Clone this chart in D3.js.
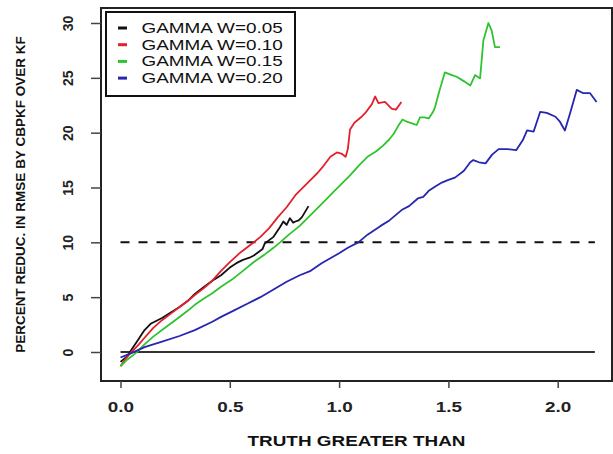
<!DOCTYPE html>
<html>
<head>
<meta charset="utf-8">
<script src="https://cdn.jsdelivr.net/npm/d3@7"></script>
<style>
  html, body { margin: 0; padding: 0; background: #fff; }
  svg { display: block; font-family: "Liberation Sans", Arial, sans-serif; }
</style>
</head>
<body>
<svg id="chart" width="613" height="454"></svg>
<script>
// Percent reduction in RMSE, one [truth threshold, percent] list per gamma weight
const seriesW005 = [
  [0.00, -0.9], [0.03, -0.4], [0.05, 0.2], [0.08, 1.1], [0.11, 2.0], [0.14, 2.6],
  [0.19, 3.1], [0.23, 3.6], [0.27, 4.1], [0.31, 4.7], [0.34, 5.3], [0.38, 5.9],
  [0.42, 6.5], [0.46, 7.0], [0.50, 7.7], [0.53, 8.1], [0.56, 8.4], [0.59, 8.6],
  [0.61, 8.8], [0.63, 9.1], [0.65, 9.4], [0.66, 9.9], [0.68, 10.2], [0.70, 10.5],
  [0.71, 10.8], [0.73, 11.4], [0.745, 11.9], [0.76, 11.6], [0.775, 12.2], [0.79, 11.8],
  [0.80, 11.9], [0.815, 12.0], [0.83, 12.3], [0.845, 12.8], [0.86, 13.3]
];
const seriesW010 = [
  [0.00, -1.3], [0.02, -0.7], [0.05, 0.0], [0.08, 0.6], [0.11, 1.3], [0.15, 2.2],
  [0.19, 2.9], [0.23, 3.5], [0.27, 4.1], [0.31, 4.7], [0.34, 5.2], [0.38, 5.8],
  [0.42, 6.5], [0.46, 7.4], [0.50, 8.2], [0.55, 9.1], [0.61, 10.0], [0.64, 10.5],
  [0.68, 11.3], [0.72, 12.3], [0.76, 13.2], [0.80, 14.3], [0.84, 15.1], [0.87, 15.7],
  [0.90, 16.3], [0.93, 17.0], [0.96, 17.8], [0.99, 18.2], [1.01, 18.1], [1.03, 17.8],
  [1.04, 18.5], [1.05, 20.3], [1.07, 20.9], [1.10, 21.4], [1.12, 21.8], [1.15, 22.6],
  [1.165, 23.3], [1.18, 22.7], [1.21, 22.8], [1.24, 22.2], [1.26, 22.1], [1.285, 22.8]
];
const seriesW015 = [
  [0.00, -1.3], [0.03, -0.7], [0.07, -0.1], [0.11, 0.7], [0.15, 1.4], [0.19, 2.0],
  [0.23, 2.6], [0.27, 3.2], [0.31, 3.8], [0.34, 4.3], [0.38, 4.85], [0.42, 5.35],
  [0.46, 5.95], [0.51, 6.6], [0.56, 7.4], [0.61, 8.2], [0.66, 8.9], [0.70, 9.5],
  [0.73, 10.0], [0.77, 10.7], [0.82, 11.5], [0.86, 12.3], [0.90, 13.1], [0.94, 13.9],
  [0.97, 14.5], [1.01, 15.3], [1.05, 16.1], [1.09, 17.0], [1.13, 17.8], [1.17, 18.3],
  [1.20, 18.8], [1.23, 19.4], [1.25, 19.9], [1.27, 20.6], [1.29, 21.2], [1.31, 21.0],
  [1.34, 20.8], [1.355, 20.7], [1.37, 21.4], [1.39, 21.4], [1.41, 21.3], [1.43, 21.9],
  [1.44, 22.4], [1.46, 23.9], [1.484, 25.5], [1.51, 25.3], [1.538, 25.1], [1.57, 24.7],
  [1.60, 24.3], [1.622, 25.25], [1.645, 24.95], [1.66, 28.4], [1.683, 30.0], [1.698, 29.3],
  [1.713, 27.8], [1.736, 27.8]
];
const seriesW020 = [
  [0.00, -0.5], [0.05, -0.1], [0.11, 0.45], [0.19, 0.94], [0.27, 1.46], [0.34, 2.0],
  [0.42, 2.76], [0.46, 3.2], [0.52, 3.8], [0.58, 4.4], [0.64, 5.0], [0.70, 5.7],
  [0.76, 6.4], [0.82, 7.0], [0.87, 7.4], [0.92, 8.1], [0.96, 8.55], [1.00, 9.0],
  [1.04, 9.5], [1.088, 10.0], [1.13, 10.7], [1.19, 11.5], [1.23, 12.0], [1.26, 12.5],
  [1.29, 13.0], [1.32, 13.3], [1.36, 14.0], [1.385, 14.15], [1.41, 14.7], [1.44, 15.1],
  [1.47, 15.45], [1.50, 15.7], [1.53, 15.9], [1.57, 16.5], [1.60, 17.3], [1.614, 17.5],
  [1.64, 17.3], [1.67, 17.2], [1.70, 18.0], [1.73, 18.5], [1.77, 18.5], [1.81, 18.4],
  [1.84, 19.3], [1.86, 20.2], [1.89, 20.1], [1.92, 21.9], [1.95, 21.8], [1.99, 21.45],
  [2.01, 21.0], [2.033, 20.2], [2.06, 22.0], [2.087, 23.9], [2.117, 23.6], [2.148, 23.6],
  [2.178, 22.8]
];

const legendLabels = ["GAMMA W=0.05", "GAMMA W=0.10", "GAMMA W=0.15", "GAMMA W=0.20"];
const seriesColors = ["#111111", "#e3202c", "#2ec42e", "#2626b0"];
const xTicks = [0.0, 0.5, 1.0, 1.5, 2.0];
const xTickLabels = ["0.0", "0.5", "1.0", "1.5", "2.0"];
const yTicks = [0, 5, 10, 15, 20, 25, 30];
const refLevels = { zero: 0, target: 10 };
const refSpan = [0.0, 2.17];

const xLabel = "TRUTH GREATER THAN";
const yLabel = "PERCENT REDUC. IN RMSE BY CBPKF OVER KF";

const allSeries = [seriesW005, seriesW010, seriesW015, seriesW020];

// Plot region
const box = { left: 101, top: 8, right: 612, bottom: 381 };
const x = d3.scaleLinear().domain([0, 2]).range([120.5, 557.7]);
const y = d3.scaleLinear().domain([0, 30]).range([352, 23]);
const hStretch = 1.35; // horizontal text is drawn wide

const svg = d3.select("#chart");

// Reference lines
svg.append("line")
  .attr("x1", x(refSpan[0])).attr("x2", x(refSpan[1]))
  .attr("y1", y(refLevels.zero)).attr("y2", y(refLevels.zero))
  .attr("stroke", "#333").attr("stroke-width", 2.2);
svg.append("line")
  .attr("x1", x(refSpan[0])).attr("x2", x(refSpan[1]))
  .attr("y1", y(refLevels.target)).attr("y2", y(refLevels.target))
  .attr("stroke", "#111").attr("stroke-width", 2)
  .attr("stroke-dasharray", "9,9");

// Series lines
const line = d3.line().x(d => x(d[0])).y(d => y(d[1]));
allSeries.forEach((s, i) => {
  svg.append("path")
    .datum(s)
    .attr("d", line)
    .attr("fill", "none")
    .attr("stroke", seriesColors[i])
    .attr("stroke-width", 1.8)
    .attr("stroke-linejoin", "round");
});

// Frame
svg.append("rect")
  .attr("x", box.left).attr("y", box.top)
  .attr("width", box.right - box.left).attr("height", box.bottom - box.top)
  .attr("fill", "none").attr("stroke", "#222").attr("stroke-width", 2);

// X axis
const xAxis = d3.axisBottom(x)
  .tickValues(xTicks)
  .tickFormat((d, i) => xTickLabels[i])
  .tickSize(7).tickPadding(0);
const gx = svg.append("g").attr("transform", `translate(0,${box.bottom})`).call(xAxis);
gx.select(".domain").remove();
gx.selectAll(".tick line").attr("stroke", "#444").attr("stroke-width", 1.5);
gx.selectAll(".tick text")
  .attr("y", 0).attr("dy", null)
  .attr("transform", `translate(0,31) scale(${hStretch},1)`)
  .attr("fill", "#222")
  .style("font-size", "14px").style("font-weight", "bold");

// Y axis
const yAxis = d3.axisLeft(y).tickValues(yTicks).tickSize(10).tickPadding(0);
const gy = svg.append("g").attr("transform", `translate(${box.left},0)`).call(yAxis);
gy.select(".domain").remove();
gy.selectAll(".tick line").attr("stroke", "#444").attr("stroke-width", 1.5);
gy.selectAll(".tick text")
  .attr("x", 0).attr("dy", null)
  .attr("text-anchor", "middle")
  .attr("transform", "translate(-28,0) rotate(-90)")
  .attr("fill", "#222")
  .style("font-size", "14px").style("font-weight", "bold");

// Axis titles
svg.append("text")
  .attr("transform", `translate(${(box.left + box.right) / 2},446) scale(${hStretch},1)`)
  .attr("text-anchor", "middle")
  .attr("fill", "#111")
  .style("font-size", "14px").style("font-weight", "bold")
  .text(xLabel);
svg.append("text")
  .attr("transform", `translate(25,${(box.top + box.bottom) / 2}) rotate(-90)`)
  .attr("text-anchor", "middle")
  .attr("fill", "#111")
  .style("font-size", "13.5px").style("font-weight", "bold")
  .text(yLabel);

// Legend
const legend = svg.append("g");
legend.append("rect")
  .attr("x", 106).attr("y", 12).attr("width", 189).attr("height", 84)
  .attr("fill", "#fff").attr("stroke", "#111").attr("stroke-width", 2);
legendLabels.forEach((lab, i) => {
  const cy = 28 + i * 16.7;
  legend.append("line")
    .attr("x1", 118).attr("x2", 127).attr("y1", cy).attr("y2", cy)
    .attr("stroke", seriesColors[i]).attr("stroke-width", 3);
  legend.append("text")
    .attr("transform", `translate(141.5,${cy + 5}) scale(${hStretch},1)`)
    .attr("fill", "#111")
    .style("font-size", "14px")
    .text(lab);
});
</script>
</body>
</html>
